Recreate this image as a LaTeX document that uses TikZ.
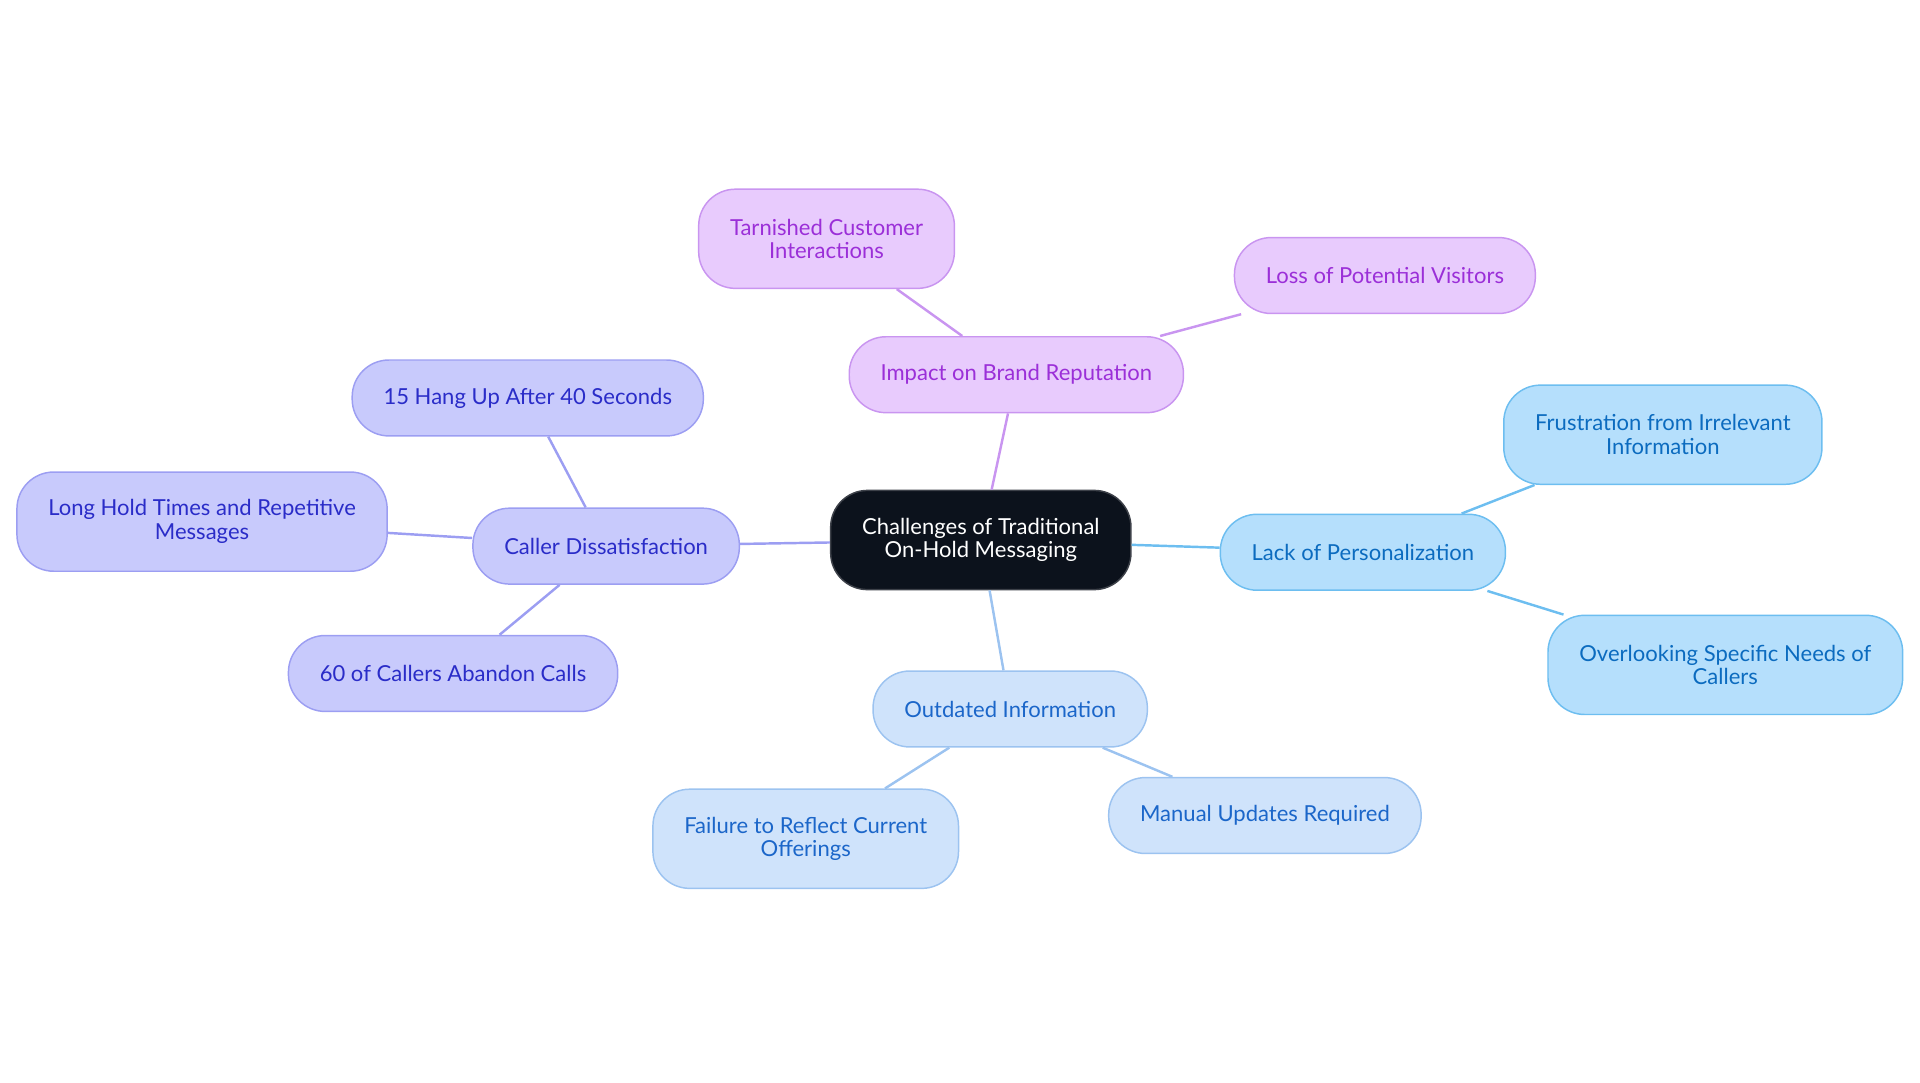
\documentclass[tikz,border=0pt]{standalone}
\usepackage{fontspec}
\setmainfont{Lato}

\definecolor{rootFill}{HTML}{0C121C}
\definecolor{brandFill}{HTML}{E8CBFD}
\definecolor{brandLine}{HTML}{C995F0}
\definecolor{brandText}{HTML}{9B2FD8}
\definecolor{callerFill}{HTML}{C8CAFC}
\definecolor{callerLine}{HTML}{9C9EF2}
\definecolor{callerText}{HTML}{2A2CC8}
\definecolor{personFill}{HTML}{B5DFFC}
\definecolor{personLine}{HTML}{6DBEF0}
\definecolor{personText}{HTML}{0B6BBF}
\definecolor{outdatedFill}{HTML}{CFE3FB}
\definecolor{outdatedLine}{HTML}{9CC3F0}
\definecolor{outdatedText}{HTML}{1B66C9}

\begin{document}
\begin{tikzpicture}[x=0.5pt,y=-0.5pt,
    box/.style={rounded corners=15pt, draw, line width=0.6pt, align=center,
        inner xsep=12.8pt, minimum height=31pt, font=\fontsize{9pt}{9.6pt}\selectfont},
    tall/.style={minimum height=40.5pt},
    rootbox/.style={box, fill=rootFill, draw=rootFill!80!white, text=white, tall},
    brandbox/.style={box, fill=brandFill, draw=brandLine, text=brandText},
    callerbox/.style={box, fill=callerFill, draw=callerLine, text=callerText},
    personbox/.style={box, fill=personFill, draw=personLine, text=personText},
    outdatedbox/.style={box, fill=outdatedFill, draw=outdatedLine, text=outdatedText},
    link/.style={line width=1pt}]
    % Define canvas
    \useasboundingbox (0,0) rectangle (1568,884);

    \node[rootbox] (root) at (801,441) {Challenges of Traditional\\On-Hold Messaging};

    % Brand reputation branch
    \node[brandbox] (brand) at (830,306) {Impact on Brand Reputation};
    \node[brandbox, tall] (tarnished) at (675,195) {Tarnished Customer\\Interactions};
    \node[brandbox] (visitors) at (1131,225) {Loss of Potential Visitors};

    % Caller dissatisfaction branch
    \node[callerbox] (caller) at (495,446) {Caller Dissatisfaction};
    \node[callerbox] (hangup) at (431,325) {15 Hang Up After 40 Seconds};
    \node[callerbox, tall] (longhold) at (165,426) {Long Hold Times and Repetitive\\Messages};
    \node[callerbox] (abandon) at (370,550) {60 of Callers Abandon Calls};

    % Personalization branch
    \node[personbox] (person) at (1113,451) {Lack of Personalization};
    \node[personbox, tall] (frustration) at (1358,355) {Frustration from Irrelevant\\Information};
    \node[personbox, tall] (needs) at (1409,543) {Overlooking Specific Needs of\\Callers};

    % Outdated information branch
    \node[outdatedbox] (outdated) at (825,579) {Outdated Information};
    \node[outdatedbox, tall] (failure) at (658,685) {Failure to Reflect Current\\Offerings};
    \node[outdatedbox] (manual) at (1033,666) {Manual Updates Required};

    \draw[link, brandLine] (root) -- (brand);
    \draw[link, brandLine] (brand) -- (tarnished);
    \draw[link, brandLine] (brand) -- (visitors);
    \draw[link, callerLine] (root) -- (caller);
    \draw[link, callerLine] (caller) -- (hangup);
    \draw[link, callerLine] (caller) -- (longhold);
    \draw[link, callerLine] (caller) -- (abandon);
    \draw[link, personLine] (root) -- (person);
    \draw[link, personLine] (person) -- (frustration);
    \draw[link, personLine] (person) -- (needs);
    \draw[link, outdatedLine] (root) -- (outdated);
    \draw[link, outdatedLine] (outdated) -- (failure);
    \draw[link, outdatedLine] (outdated) -- (manual);
\end{tikzpicture}
\end{document}
